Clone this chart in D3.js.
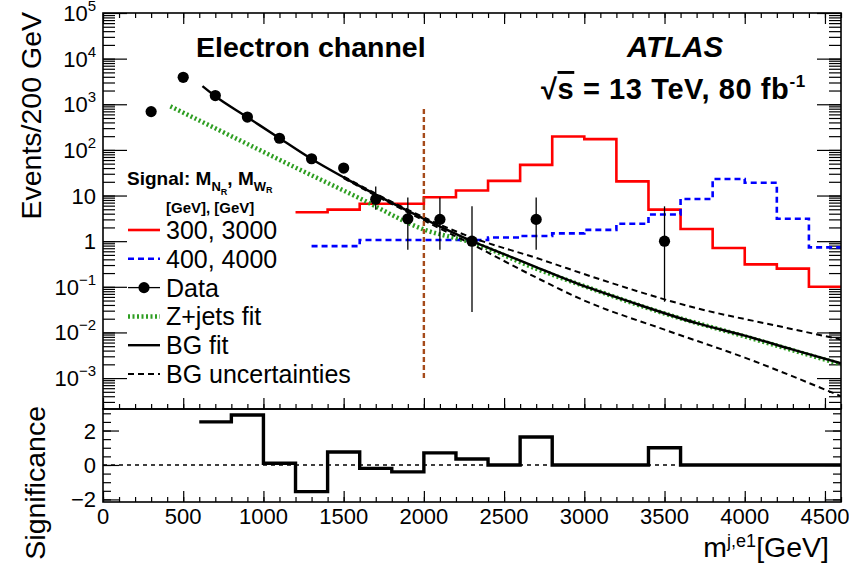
<!DOCTYPE html>
<html>
<head>
<meta charset="utf-8">
<script src="https://cdn.jsdelivr.net/npm/d3@7"></script>
<style>
  body { margin: 0; background: #fff; }
  svg { font-family: "Liberation Sans", Arial, Helvetica, sans-serif; }
</style>
</head>
<body>
<svg id="chart" width="849" height="564"></svg>
<script>
// observed data
var dataMass   = [300, 500, 700, 900, 1100, 1300, 1500, 1700, 1900, 2100, 2300, 2700, 3500];
var dataEvents = [690, 3900, 1550, 525, 180, 64, 40, 8.3, 3.1, 3.0, 1, 3, 1];
var dataErrLo  = [664, 3838, 1511, 502, 167, 56, 34, 4.9, 0.65, 0.65, 0.028, 0.65, 0.047];
var dataErrHi  = [716, 3962, 1589, 548, 193, 72, 46, 15.8, 9.0, 9.0, 5.8, 9.0, 5.8];

// background fit
var fitMass   = [620, 700, 900, 1100, 1300, 1500, 1700, 1900, 2100, 2300, 2500, 2700, 2950, 3300, 3700, 4000, 4300, 4600];
var fitEvents = [2500, 1500, 520, 180, 63, 25, 10.5, 4.6, 2.1, 1.0, 0.52, 0.27, 0.12, 0.045, 0.016, 0.0085, 0.0042, 0.0021];

// Z+jets fit
var zjetsMass   = [420, 800, 1200, 1600, 2000, 2300, 2700, 3000, 3500, 4000, 4600];
var zjetsEvents = [900, 200, 41, 8.7, 1.8, 0.93, 0.25, 0.103, 0.026, 0.0082, 0.002];

// fit uncertainty band edges
var uncUpMass     = [1500, 1700, 1900, 2100, 2300, 2700, 3100, 3700, 4200, 4600];
var uncUpEvents   = [26, 11, 4.9, 2.3, 1.2, 0.43, 0.145, 0.034, 0.014, 0.007];
var uncDownMass   = [1500, 1700, 1900, 2100, 2300, 2700, 3000, 3500, 4000, 4600];
var uncDownEvents = [24, 10, 4.3, 1.9, 0.85, 0.16, 0.05, 0.0115, 0.0028, 0.0004];

// signal histograms
var sig3000Edges  = [1200, 1400, 1600, 1800, 2000, 2200, 2400, 2600, 2800, 3000, 3200, 3400, 3600, 3800, 4000, 4200, 4400, 4600];
var sig3000Events = [4.3, 4.9, 6.6, 6.6, 9.2, 12.9, 21, 47, 196, 172, 20.4, 4.9, 1.85, 0.71, 0.31, 0.25, 0.10];
var sig4000Edges  = [1300, 1600, 2400, 2600, 2800, 3000, 3200, 3400, 3600, 3800, 4000, 4200, 4400, 4600];
var sig4000Events = [0.78, 1.06, 1.2, 1.3, 1.48, 1.77, 2.4, 3.85, 8.4, 23, 19, 3.1, 0.73];

// significance panel
var signifEdges  = [600, 800, 1000, 1200, 1400, 1600, 1800, 2000, 2200, 2400, 2600, 2800, 3000, 3200, 3400, 3600, 3800, 4000, 4200, 4400, 4600];
var signifValues = [2.5, 2.9, 0.1, -1.55, 0.75, -0.2, -0.4, 0.7, 0.35, 0, 1.62, 0, 0, 0, 1.0, 0, 0, 0, 0, 0];

var xTickLabels = [0, 500, 1000, 1500, 2000, 2500, 3000, 3500, 4000, 4500];
var yDecades = [-3, -2, -1, 0, 1, 2, 3, 4, 5];
var signifTickLabels = [-2, 0, 2];
var cutMass = 2000;
var cutRange = [0.001, 800];

var svg = d3.select('#chart');
var left = 103, right = 841;
var topY = 13, midY = 409, botY = 502;

var x = d3.scaleLinear().domain([0, 4600]).range([left, right]);
var y = d3.scaleLog().domain([2.1e-4, 1e5]).range([midY, topY]);
var ys = d3.scaleLinear().domain([-2.15, 3.25]).range([botY, midY]);

svg.append('defs').append('clipPath').attr('id', 'clipTop')
  .append('rect').attr('x', left).attr('y', topY).attr('width', right - left).attr('height', midY - topY);

var minorX = d3.range(0, 4601, 100);
var minorY = [];
yDecades.forEach(function(d) {
  for (var k = 1; k < 10; k++) minorY.push(k * Math.pow(10, d - 1));
});
minorY = minorY.filter(function(v) { return v >= 2.1e-4 && v <= 1e5; });

function ticks(g) {
  g.select('.domain').remove();
  g.selectAll('.tick line').attr('stroke', '#000').attr('stroke-width', 1.2);
  g.selectAll('.tick text').remove();
}

// ---- top panel axes ----
svg.append('g').attr('transform', 'translate(0,' + midY + ')')
  .call(d3.axisBottom(x).tickValues(xTickLabels).tickSize(-11)).call(ticks);
svg.append('g').attr('transform', 'translate(0,' + midY + ')')
  .call(d3.axisBottom(x).tickValues(minorX).tickSize(-5)).call(ticks);
svg.append('g').attr('transform', 'translate(0,' + topY + ')')
  .call(d3.axisTop(x).tickValues(xTickLabels).tickSize(-11)).call(ticks);
svg.append('g').attr('transform', 'translate(0,' + topY + ')')
  .call(d3.axisTop(x).tickValues(minorX).tickSize(-5)).call(ticks);

var decadeVals = yDecades.map(function(d) { return Math.pow(10, d); });
svg.append('g').attr('transform', 'translate(' + left + ',0)')
  .call(d3.axisLeft(y).tickValues(decadeVals).tickSize(-24)).call(ticks);
svg.append('g').attr('transform', 'translate(' + left + ',0)')
  .call(d3.axisLeft(y).tickValues(minorY).tickSize(-12)).call(ticks);
svg.append('g').attr('transform', 'translate(' + right + ',0)')
  .call(d3.axisRight(y).tickValues(decadeVals).tickSize(-24)).call(ticks);
svg.append('g').attr('transform', 'translate(' + right + ',0)')
  .call(d3.axisRight(y).tickValues(minorY).tickSize(-12)).call(ticks);

// y labels with exponents
yDecades.forEach(function(d) {
  var t = svg.append('text')
    .attr('x', 96).attr('y', y(Math.pow(10, d)) + 8)
    .attr('text-anchor', 'end')
    .attr('font-size', '22px');
  if (d === 0) { t.text('1'); return; }
  if (d === 1) { t.text('10'); return; }
  t.append('tspan').text('10');
  t.append('tspan').attr('dy', -10).attr('font-size', '15px')
    .text(d < 0 ? '\u2212' + (-d) : d);
});

// ---- bottom panel axes ----
var minorS = d3.range(-2, 3.01, 0.5);
svg.append('g').attr('transform', 'translate(' + left + ',0)')
  .call(d3.axisLeft(ys).tickValues(signifTickLabels).tickSize(-16)).call(ticks);
svg.append('g').attr('transform', 'translate(' + left + ',0)')
  .call(d3.axisLeft(ys).tickValues(minorS).tickSize(-8)).call(ticks);
svg.append('g').attr('transform', 'translate(' + right + ',0)')
  .call(d3.axisRight(ys).tickValues(signifTickLabels).tickSize(-16)).call(ticks);
svg.append('g').attr('transform', 'translate(' + right + ',0)')
  .call(d3.axisRight(ys).tickValues(minorS).tickSize(-8)).call(ticks);
svg.append('g').attr('transform', 'translate(0,' + botY + ')')
  .call(d3.axisBottom(x).tickValues(xTickLabels).tickSize(-11)).call(ticks);
svg.append('g').attr('transform', 'translate(0,' + botY + ')')
  .call(d3.axisBottom(x).tickValues(minorX).tickSize(-5)).call(ticks);

signifTickLabels.forEach(function(v) {
  svg.append('text')
    .attr('x', 96).attr('y', ys(v) + 8)
    .attr('text-anchor', 'end')
    .attr('font-size', '22px')
    .text(v < 0 ? '\u2212' + (-v) : v);
});
xTickLabels.forEach(function(v) {
  svg.append('text')
    .attr('x', x(v)).attr('y', 524)
    .attr('text-anchor', 'middle')
    .attr('font-size', '22px')
    .text(v);
});

// ---- top panel content ----
var plot = svg.append('g').attr('clip-path', 'url(#clipTop)');

function stepPoints(edges, vals) {
  return edges.map(function(e, i) { return [e, vals[Math.min(i, vals.length - 1)]]; });
}
var stepLine = d3.line()
  .x(function(d) { return x(d[0]); })
  .y(function(d) { return y(d[1]); })
  .curve(d3.curveStepAfter);
var smoothLine = d3.line()
  .x(function(d) { return x(d[0]); })
  .y(function(d) { return y(d[1]); })
  .curve(d3.curveMonotoneX);
function pairs(a, b) { return a.map(function(v, i) { return [v, b[i]]; }); }

plot.append('path')
  .attr('d', stepLine(stepPoints(sig3000Edges, sig3000Events)))
  .attr('fill', 'none').attr('stroke', '#ff0000').attr('stroke-width', 2.6);
plot.append('path')
  .attr('d', stepLine(stepPoints(sig4000Edges, sig4000Events)))
  .attr('fill', 'none').attr('stroke', '#0000ff').attr('stroke-width', 2.6)
  .attr('stroke-dasharray', '6,4');

plot.append('path')
  .attr('d', smoothLine(pairs(zjetsMass, zjetsEvents)))
  .attr('fill', 'none').attr('stroke', '#2e9e22').attr('stroke-width', 4.5)
  .attr('stroke-dasharray', '2,2.5');

plot.append('path')
  .attr('d', smoothLine(pairs(uncUpMass, uncUpEvents)))
  .attr('fill', 'none').attr('stroke', '#000').attr('stroke-width', 2)
  .attr('stroke-dasharray', '6,4');
plot.append('path')
  .attr('d', smoothLine(pairs(uncDownMass, uncDownEvents)))
  .attr('fill', 'none').attr('stroke', '#000').attr('stroke-width', 2)
  .attr('stroke-dasharray', '6,4');

plot.append('path')
  .attr('d', smoothLine(pairs(fitMass, fitEvents)))
  .attr('fill', 'none').attr('stroke', '#000').attr('stroke-width', 2.4);

// mass cut
plot.append('line')
  .attr('x1', x(cutMass)).attr('x2', x(cutMass))
  .attr('y1', y(cutRange[0])).attr('y2', y(cutRange[1]))
  .attr('stroke', '#a54a1a').attr('stroke-width', 2.4)
  .attr('stroke-dasharray', '5,3');

// data points
plot.selectAll('.err')
  .data(dataMass)
  .enter().append('line')
  .attr('x1', function(d) { return x(d); })
  .attr('x2', function(d) { return x(d); })
  .attr('y1', function(d, i) { return y(dataErrLo[i]); })
  .attr('y2', function(d, i) { return y(dataErrHi[i]); })
  .attr('stroke', '#000').attr('stroke-width', 1.3);
plot.selectAll('.dot')
  .data(dataMass)
  .enter().append('circle')
  .attr('cx', function(d) { return x(d); })
  .attr('cy', function(d, i) { return y(dataEvents[i]); })
  .attr('r', 5.6)
  .attr('fill', '#000');

// ---- bottom panel content ----
svg.append('line')
  .attr('x1', left).attr('x2', right)
  .attr('y1', ys(0)).attr('y2', ys(0))
  .attr('stroke', '#000').attr('stroke-width', 1.5)
  .attr('stroke-dasharray', '4,4');
svg.append('path')
  .attr('d', d3.line()
    .x(function(d) { return x(d[0]); })
    .y(function(d) { return ys(d[1]); })
    .curve(d3.curveStepAfter)(stepPoints(signifEdges, signifValues)))
  .attr('fill', 'none').attr('stroke', '#000').attr('stroke-width', 3.4);

// frames
svg.append('rect').attr('x', left).attr('y', topY).attr('width', right - left).attr('height', midY - topY)
  .attr('fill', 'none').attr('stroke', '#000').attr('stroke-width', 1.6);
svg.append('rect').attr('x', left).attr('y', midY).attr('width', right - left).attr('height', botY - midY)
  .attr('fill', 'none').attr('stroke', '#000').attr('stroke-width', 1.6);

// ---- titles ----
svg.append('text')
  .attr('transform', 'translate(41,12) rotate(-90)')
  .attr('text-anchor', 'end')
  .attr('font-size', '28.5px')
  .text('Events/200 GeV');
svg.append('text')
  .attr('transform', 'translate(45,406) rotate(-90)')
  .attr('text-anchor', 'end')
  .attr('font-size', '28.5px')
  .text('Significance');

var xt = svg.append('text')
  .attr('x', 829).attr('y', 557)
  .attr('text-anchor', 'end')
  .attr('font-size', '28.5px');
xt.append('tspan').text('m');
xt.append('tspan').attr('dy', -10).attr('font-size', '18px').text('j,e1');
xt.append('tspan').attr('dy', 10).text('[GeV]');

svg.append('text')
  .attr('x', 196).attr('y', 57)
  .attr('font-size', '28.5px').attr('font-weight', 'bold')
  .text('Electron channel');
svg.append('text')
  .attr('x', 627).attr('y', 57)
  .attr('font-size', '29.5px').attr('font-weight', 'bold').attr('font-style', 'italic')
  .text('ATLAS');
var en = svg.append('text')
  .attr('x', 541).attr('y', 99)
  .attr('font-size', '29px').attr('font-weight', 'bold')
  .attr('letter-spacing', '0.6px');
en.append('tspan').text('\u221A');
en.append('tspan').style('text-decoration', 'overline').text('s');
en.append('tspan').text(' = 13 TeV, 80 fb');
en.append('tspan').attr('dy', -12).attr('font-size', '17px').text('-1');

// ---- legend ----
var hdr = svg.append('text')
  .attr('x', 127).attr('y', 185)
  .attr('font-size', '19px').attr('font-weight', 'bold');
hdr.append('tspan').text('Signal: M');
hdr.append('tspan').attr('dy', 6).attr('font-size', '13px').text('N');
hdr.append('tspan').attr('dy', 4).attr('font-size', '9px').text('R');
hdr.append('tspan').attr('dy', -10).attr('font-size', '19px').text(', M');
hdr.append('tspan').attr('dy', 6).attr('font-size', '13px').text('W');
hdr.append('tspan').attr('dy', 2).attr('font-size', '9px').text('R');
svg.append('text')
  .attr('x', 166).attr('y', 213)
  .attr('font-size', '15px').attr('font-weight', 'bold')
  .text('[GeV], [GeV]');

var legendRows = [
  {label: '300, 3000', stroke: '#ff0000', dash: null, width: 2.6},
  {label: '400, 4000', stroke: '#0000ff', dash: '6,4', width: 2.6},
  {label: 'Data', stroke: '#000', dash: null, width: 1.3, marker: true},
  {label: 'Z+jets fit', stroke: '#2e9e22', dash: '2,2.5', width: 4.5},
  {label: 'BG fit', stroke: '#000', dash: null, width: 2.4},
  {label: 'BG uncertainties', stroke: '#000', dash: '6,4', width: 2}
];
legendRows.forEach(function(r, i) {
  var cy = 230 + i * 28.8;
  svg.append('line')
    .attr('x1', 128).attr('x2', 160).attr('y1', cy).attr('y2', cy)
    .attr('stroke', r.stroke).attr('stroke-width', r.width)
    .attr('stroke-dasharray', r.dash);
  if (r.marker) {
    svg.append('circle').attr('cx', 144).attr('cy', cy).attr('r', 5.6).attr('fill', '#000');
  }
  svg.append('text')
    .attr('x', 166).attr('y', cy + 9)
    .attr('font-size', '25px')
    .text(r.label);
});
</script>
</body>
</html>
